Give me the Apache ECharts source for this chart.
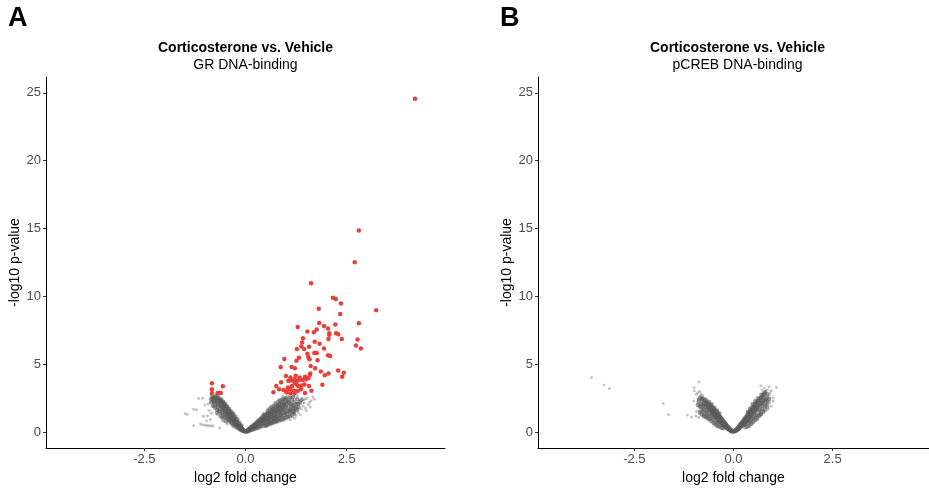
<!DOCTYPE html>
<html>
<head>
<meta charset="utf-8">
<script src="https://cdn.jsdelivr.net/npm/echarts@6/dist/echarts.min.js"></script>
<style>html,body{margin:0;padding:0;background:#fff}#c{width:929px;height:490px}</style>
</head>
<body>
<div id="c"></div>
<script>
// ---- tick labels ----
const xTicks = [-2.5, 0, 2.5];
const yTicks = [0, 5, 10, 15, 20, 25];

// ---- panel titles ----
const panelLetters = ['A', 'B'];
const mainTitle = 'Corticosterone vs. Vehicle';
const subTitles = ['GR DNA-binding', 'pCREB DNA-binding'];
const xName = 'log2 fold change';
const yName = '-log10 p-value';

// ---- Panel A: GR, significant (red) ----
const grSig = [[2.70,12.51],[1.62,10.98],[2.16,9.91],[2.23,9.82],[2.36,9.48],[3.23,8.99],[1.81,9.09],[2.34,8.70],[2.80,8.02],[2.22,7.94],[1.29,7.75],[1.82,8.04],[1.94,7.82],[2.04,7.63],[1.76,7.56],[1.53,7.41],[1.69,7.36],[2.07,7.29],[2.07,7.17],[2.24,7.29],[2.29,7.21],[1.42,6.92],[2.05,6.87],[2.38,6.87],[2.77,6.83],[1.40,6.61],[1.71,6.66],[1.83,6.51],[2.73,6.39],[2.85,6.17],[1.38,6.32],[1.57,6.29],[1.27,6.12],[1.45,6.12],[1.94,6.17],[1.53,5.78],[1.70,5.83],[1.76,5.83],[2.04,5.66],[2.09,5.61],[1.55,5.54],[1.32,5.49],[0.96,5.39],[1.58,5.37],[1.78,5.30],[1.26,5.27],[0.87,4.81],[1.14,4.81],[1.22,4.71],[1.61,4.88],[1.72,4.71],[2.29,4.54],[2.43,4.37],[1.86,4.47],[2.05,4.32],[1.96,4.20],[2.39,4.08],[1.60,4.32],[1.59,4.22],[1.00,4.13],[1.24,4.15],[1.11,4.03],[1.47,4.08],[1.34,4.03],[1.21,3.89],[1.33,3.84],[1.06,3.79],[1.12,3.81],[1.25,3.79],[1.42,3.84],[1.50,3.89],[1.56,3.99],[0.88,3.67],[1.21,3.64],[1.26,3.55],[1.46,3.52],[1.57,3.40],[1.90,3.50],[1.39,3.43],[1.30,3.40],[1.15,3.40],[1.05,3.30],[0.76,3.40],[0.83,3.16],[0.94,3.11],[1.03,3.11],[1.11,3.16],[1.20,3.06],[1.29,3.04],[1.11,2.87],[1.21,2.87],[0.69,2.94],[1.47,2.89],[1.63,3.06],[1.37,3.16],[1.01,2.94],[4.19,24.56],[2.80,14.85],[-0.83,3.60],[-0.83,3.16],[-0.56,3.38],[-0.83,2.89],[-0.69,2.89],[-0.64,2.89],[-0.61,2.89]];

// ---- Panel A: GR, not significant, dense core (grey) ----
const grCore = [[0.02,0.04],[0.03,0.09],[0.05,0.06],[0.05,0.14],[0.07,0.11],[0.08,0.21],[0.09,0.15],[0.1,0.27],[0.11,0.12],[0.12,0.2],[0.13,0.33],[0.14,0.24],[0.15,0.4],[0.16,0.17],[0.17,0.3],[0.18,0.47],[0.19,0.36],[0.2,0.22],[0.21,0.55],[0.22,0.41],[0.23,0.3],[0.24,0.62],[0.25,0.48],[0.26,0.27],[0.27,0.7],[0.28,0.55],[0.29,0.38],[0.3,0.8],[0.31,0.62],[0.32,0.33],[0.33,0.87],[0.34,0.5],[0.35,0.71],[0.36,0.95],[0.37,0.42],[0.38,0.8],[0.39,1.03],[0.4,0.58],[0.41,0.9],[0.42,1.12],[0.43,0.46],[0.44,0.73],[0.45,1.0],[0.46,1.2],[0.47,0.6],[0.48,0.86],[0.49,1.28],[0.5,1.08],[0.51,0.52],[0.52,0.75],[0.53,1.36],[0.54,0.96],[0.55,1.18],[0.56,0.63],[0.57,1.44],[0.58,0.85],[0.59,1.26],[0.6,1.05],[0.61,1.52],[0.62,0.7],[0.63,1.35],[0.64,0.95],[0.65,1.6],[0.66,1.15],[0.67,0.78],[0.68,1.45],[0.69,1.68],[0.7,1.02],[0.71,1.28],[0.72,1.76],[0.73,0.85],[0.74,1.55],[0.75,1.12],[0.76,1.84],[0.77,1.38],[0.78,0.95],[0.79,1.65],[0.8,1.92],[0.81,1.22],[0.82,1.48],[0.83,2.0],[0.84,1.05],[0.85,1.75],[0.86,1.32],[0.87,2.1],[0.88,1.58],[0.89,1.15],[0.9,1.85],[0.91,2.2],[0.92,1.42],[0.94,1.68],[0.95,2.02],[0.96,1.25],[0.97,2.3],[0.98,1.52],[1.0,1.8],[1.01,2.12],[1.02,1.35],[1.04,2.4],[1.05,1.62],[1.07,1.92],[1.08,2.25],[1.1,1.45],[1.12,2.05],[1.13,1.72],[1.15,2.38],[1.17,1.55],[1.19,1.95],[1.21,2.2],[1.23,1.68],[1.26,2.08],[1.28,2.45],[1.31,1.85],[1.34,2.25],
[0.12,0.26],[0.18,0.38],[0.24,0.52],[0.3,0.68],[0.36,0.78],[0.42,0.95],[0.48,1.1],[0.54,1.22],[0.6,1.35],[0.66,1.5],[0.72,1.62],[0.78,1.75],[0.84,1.88],[0.9,1.98],[0.96,2.1],[0.33,0.6],[0.39,0.65],[0.45,0.82],[0.51,0.92],[0.57,1.02],[0.63,1.15],[0.69,1.25],[0.75,1.4],[0.81,1.55],[0.87,1.65],[0.93,1.78],[0.99,1.9],
[0.5,0.45],[0.6,0.6],[0.7,0.72],[0.8,0.85],[0.9,0.95],[1.0,1.05],[1.1,1.2],[1.2,1.35],[0.55,0.55],[0.65,0.66],[0.75,0.78],[0.85,0.9],[0.95,1.0],[1.05,1.12],[1.15,1.28],[0.4,0.9],[0.5,1.25],[0.6,1.7],[0.7,1.95],[0.8,2.2],[0.9,2.4],[1.0,2.5],[1.1,2.55],[0.45,1.3],[0.55,1.55],[0.65,1.82],[0.75,2.05],[0.85,2.3],[0.95,2.45],[1.05,2.2],[1.15,2.0],[1.25,1.8],[1.1,1.65],[1.2,1.5],[1.3,2.1],[1.18,2.6],[1.38,2.35],[0.98,1.4],[0.88,1.28],[0.78,1.12],[0.68,0.98],[0.58,0.82],[1.08,1.55],[1.18,1.8],[1.28,1.65],
[-0.02,0.05],[-0.03,0.11],[-0.05,0.08],[-0.06,0.18],[-0.07,0.12],[-0.08,0.26],[-0.09,0.17],[-0.1,0.33],[-0.11,0.22],[-0.12,0.4],[-0.13,0.28],[-0.14,0.48],[-0.15,0.33],[-0.16,0.55],[-0.17,0.4],[-0.18,0.63],[-0.19,0.45],[-0.2,0.7],[-0.21,0.52],[-0.22,0.8],[-0.23,0.58],[-0.24,0.88],[-0.25,0.64],[-0.26,0.97],[-0.27,0.72],[-0.28,1.05],[-0.29,0.78],[-0.3,1.13],[-0.31,0.85],[-0.32,1.22],[-0.33,0.9],[-0.34,1.3],[-0.35,1.0],[-0.36,1.38],[-0.37,1.05],[-0.38,1.46],[-0.39,1.12],[-0.4,1.55],[-0.41,1.2],[-0.42,1.62],[-0.43,1.28],[-0.44,1.7],[-0.45,1.35],[-0.46,1.78],[-0.47,1.42],[-0.48,1.86],[-0.49,1.5],[-0.5,1.93],[-0.51,1.58],[-0.52,2.0],[-0.53,1.65],[-0.54,2.08],[-0.55,1.72],[-0.56,2.15],[-0.57,1.8],[-0.58,2.22],[-0.59,1.88],[-0.6,2.28],[-0.62,1.95],[-0.63,2.35],[-0.65,2.02],[-0.66,2.4],[-0.68,2.1],[-0.7,2.46],[-0.72,2.18],[-0.74,2.5],[-0.76,2.26],[-0.78,2.56],[-0.8,2.34],[-0.82,2.6],
[-0.1,0.26],[-0.15,0.42],[-0.2,0.6],[-0.25,0.78],[-0.3,0.96],[-0.35,1.15],[-0.4,1.35],[-0.45,1.52],[-0.5,1.72],[-0.55,1.9],[-0.6,2.06],[-0.65,2.22],[-0.7,2.3],[-0.27,0.55],[-0.33,0.72],[-0.39,0.9],[-0.45,1.1],[-0.51,1.3],[-0.57,1.5],[-0.63,1.7],[-0.69,1.85],[-0.75,2.0],
[-0.3,0.5],[-0.3,1.35],[-0.35,0.65],[-0.35,1.5],[-0.4,0.8],[-0.4,1.7],[-0.45,0.95],[-0.45,1.9],[-0.5,1.1],[-0.5,2.1],[-0.55,1.25],[-0.55,2.25],[-0.6,1.4],[-0.6,2.4],[-0.65,1.55],[-0.65,2.5],[-0.7,1.65],[-0.7,2.6],[-0.75,1.8],[-0.75,2.62],[-0.8,1.95],[-0.8,2.5],[-0.85,2.2],[-0.25,0.4],[-0.25,1.15],[-0.2,0.3],[-0.2,0.95],[-0.15,0.22],[-0.15,0.7],[-0.1,0.15],[-0.1,0.5],[-0.62,1.2],[-0.7,1.45],[-0.78,2.2],[-0.84,2.45],[-0.56,1.0],[-0.48,0.8]];

// ---- Panel A: GR, not significant, scattered (grey) ----
const grSparse = [[1.36,2.1],[1.4,2.52],[1.44,2.38],[1.48,2.46],[1.53,2.5],[1.58,2.2],[1.62,2.32],[1.7,2.42],[1.38,1.72],[1.25,1.22],[1.1,0.92],[1.16,1.1],[0.95,0.86],[1.3,1.45],[1.42,1.92],[1.55,2.02],[1.03,2.72],[0.92,2.65],[0.82,2.42],[0.72,2.2],[1.66,2.6],[1.2,2.68],[1.05,1.15],[1.22,1.02],[1.35,1.3],[1.48,1.78],[0.88,0.8],[0.78,0.72],[1.12,2.6],[1.28,2.7],[0.62,1.92],[0.55,1.7],[1.45,2.15],[1.5,1.6],[1.6,1.85],[0.98,2.55],
[-1.49,1.38],[-1.44,1.3],[-1.28,1.68],[-1.21,1.66],[-1.16,2.48],[-1.06,2.5],[-1.04,1.17],[-0.94,1.2],[-1.11,0.6],[-1.06,0.55],[-1.0,0.52],[-0.95,0.5],[-0.9,0.48],[-0.85,0.47],[-0.8,0.45],[-1.28,0.5],[-0.64,0.3],[-0.87,0.93],[-0.8,2.26],[-0.8,1.9],[-0.9,1.6],[-0.92,2.1],[-0.86,2.75],[-0.74,2.78],[-0.68,2.7],[-0.55,0.8],[-0.45,0.6],[-0.7,1.3],[-0.96,0.85],[-0.88,2.45],[-0.6,1.1],[-0.84,1.4],[-1.0,2.0]];

// ---- Panel B: pCREB, dense core (grey) ----
const crebCore = [[-0.02,0.04],[-0.03,0.1],[-0.05,0.07],[-0.06,0.15],[-0.07,0.1],[-0.08,0.22],[-0.1,0.16],[-0.11,0.3],[-0.12,0.2],[-0.13,0.36],[-0.14,0.24],[-0.15,0.42],[-0.16,0.3],[-0.17,0.5],[-0.18,0.34],[-0.19,0.58],[-0.2,0.4],[-0.21,0.65],[-0.22,0.45],[-0.23,0.72],[-0.24,0.52],[-0.25,0.8],[-0.26,0.56],[-0.27,0.88],[-0.28,0.62],[-0.29,0.95],[-0.3,0.68],[-0.31,1.02],[-0.32,0.74],[-0.33,1.1],[-0.34,0.8],[-0.35,1.18],[-0.36,0.85],[-0.37,1.25],[-0.38,0.92],[-0.39,1.32],[-0.4,0.98],[-0.41,1.4],[-0.42,1.05],[-0.43,1.46],[-0.44,1.12],[-0.45,1.52],[-0.46,1.18],[-0.47,1.6],[-0.48,1.25],[-0.49,1.66],[-0.5,1.3],[-0.51,1.72],[-0.52,1.37],[-0.53,1.8],[-0.54,1.42],[-0.55,1.86],[-0.56,1.5],[-0.57,1.92],[-0.58,1.55],[-0.59,1.98],[-0.6,1.62],[-0.62,2.05],[-0.63,1.7],[-0.65,2.12],[-0.66,1.76],[-0.68,2.2],[-0.7,1.85],[-0.72,2.28],[-0.74,1.95],[-0.76,2.35],[-0.78,2.02],[-0.8,2.45],[-0.82,2.1],[-0.84,2.55],
[-0.2,0.52],[-0.25,0.66],[-0.3,0.85],[-0.35,1.0],[-0.4,1.18],[-0.45,1.32],[-0.5,1.48],[-0.55,1.65],[-0.6,1.8],[-0.65,1.95],[-0.7,2.05],[-0.75,2.15],[-0.3,0.55],[-0.38,0.7],[-0.46,0.9],[-0.54,1.1],[-0.62,1.3],[-0.7,1.5],[-0.78,1.7],[-0.85,1.9],[-0.74,1.3],[-0.8,1.5],[-0.88,2.25],[-0.66,1.15],
[-0.4,0.45],[-0.45,0.55],[-0.5,0.7],[-0.55,0.8],[-0.6,0.95],[-0.65,1.0],[-0.7,1.15],[-0.75,1.2],[-0.8,1.3],[-0.85,1.5],[-0.35,0.4],[-0.3,0.32],[-0.25,0.28],[-0.42,0.72],[-0.5,1.0],[-0.58,1.2],[-0.66,1.45],[-0.74,1.65],[-0.82,1.85],[-0.9,2.0],[-0.86,2.4],[-0.78,2.5],[-0.7,2.4],[-0.62,2.25],[-0.55,2.05],[-0.48,1.8],[-0.42,1.6],[-0.36,1.4],
[0.02,0.05],[0.03,0.11],[0.05,0.08],[0.06,0.18],[0.07,0.12],[0.08,0.25],[0.1,0.17],[0.11,0.33],[0.12,0.22],[0.13,0.4],[0.14,0.28],[0.15,0.47],[0.16,0.33],[0.17,0.55],[0.18,0.38],[0.19,0.62],[0.2,0.44],[0.21,0.7],[0.22,0.5],[0.23,0.78],[0.24,0.56],[0.25,0.86],[0.26,0.62],[0.27,0.94],[0.28,0.68],[0.29,1.02],[0.3,0.74],[0.31,1.1],[0.32,0.8],[0.33,1.18],[0.34,0.86],[0.35,1.26],[0.36,0.93],[0.37,1.34],[0.38,1.0],[0.39,1.42],[0.4,1.07],[0.41,1.5],[0.42,1.14],[0.43,1.58],[0.44,1.2],[0.45,1.66],[0.46,1.28],[0.47,1.74],[0.48,1.35],[0.49,1.82],[0.5,1.42],[0.51,1.9],[0.52,1.5],[0.53,1.98],[0.54,1.57],[0.55,2.06],[0.56,1.64],[0.57,2.14],[0.58,1.72],[0.59,2.22],[0.6,1.8],[0.62,2.3],[0.63,1.88],[0.65,2.4],[0.66,1.96],[0.68,2.5],[0.69,2.05],[0.71,2.6],[0.72,2.15],[0.74,2.72],[0.75,2.25],[0.77,2.85],[0.78,2.35],[0.8,2.95],
[0.2,0.6],[0.25,0.74],[0.3,0.9],[0.35,1.08],[0.4,1.26],[0.45,1.44],[0.5,1.62],[0.55,1.8],[0.6,2.0],[0.65,2.15],[0.7,2.32],[0.75,2.5],[0.3,0.58],[0.37,0.72],[0.44,0.9],[0.51,1.1],[0.58,1.3],[0.65,1.5],[0.72,1.7],[0.8,1.95],[0.85,2.5],[0.82,2.2],[0.68,1.3],
[0.4,0.5],[0.45,0.62],[0.5,0.75],[0.55,0.9],[0.6,1.05],[0.65,1.2],[0.7,1.35],[0.75,1.5],[0.8,1.65],[0.85,1.9],[0.35,0.42],[0.3,0.36],[0.42,0.75],[0.5,1.0],[0.58,1.2],[0.66,1.65],[0.74,1.95],[0.82,2.45],[0.88,2.2],[0.78,2.7],[0.7,2.75],[0.62,2.5],[0.55,2.3],[0.48,2.05],[0.42,1.75],[0.36,1.5],[0.85,2.8],[0.9,2.45]];

// ---- Panel B: pCREB, scattered (grey) ----
const crebSparse = [[-3.58,4.03],[-3.27,3.47],[-3.13,3.21],[-1.77,2.11],[-1.64,1.31],[-1.16,1.26],[-1.06,1.12],[-0.87,3.72],[-0.99,3.3],[-0.99,3.05],[-0.94,2.8],[-1.0,2.3],[-0.93,1.55],[-0.9,2.9],[-0.85,3.0],[-0.82,2.8],[-0.9,2.45],[-0.95,1.2],[-0.88,1.1],[-0.78,2.7],[-0.6,0.9],[-0.5,0.6],[-0.72,1.05],[-0.86,1.35],
[0.69,3.42],[0.78,3.25],[0.85,3.12],[0.9,3.35],[0.95,3.05],[1.0,2.55],[1.08,3.3],[0.9,2.72],[0.82,2.05],[0.95,1.92],[1.0,2.3],[0.76,1.5],[0.88,1.7],[0.72,3.1],[0.8,3.0],[0.6,0.9],[0.92,2.9]];

const FONT = '"Liberation Sans", Arial, sans-serif';
const grids = [
  {left: 46, top: 77, width: 399, height: 375},
  {left: 538, top: 77, width: 399, height: 375}
];

function xAxis(i) {
  return {
    type: 'value', gridIndex: i, min: -4.93, max: 4.93,
    name: xName, nameLocation: 'middle', nameGap: 23,
    nameTextStyle: {color: '#000', fontSize: 14, fontFamily: FONT},
    splitLine: {show: false},
    axisLine: {show: true, onZero: false, lineStyle: {color: '#000', width: 1}},
    axisTick: {show: true, length: 3, lineStyle: {color: '#333'}, customValues: xTicks},
    axisLabel: {color: '#4d4d4d', fontSize: 13, fontFamily: FONT, margin: 5,
      customValues: xTicks, formatter: v => v.toFixed(1)}
  };
}
function yAxis(i) {
  return {
    type: 'value', gridIndex: i, min: -1.166, max: 26.166,
    name: yName, nameLocation: 'middle', nameGap: 24, nameRotate: 90,
    nameTextStyle: {color: '#000', fontSize: 14, fontFamily: FONT},
    splitLine: {show: false},
    axisLine: {show: true, onZero: false, lineStyle: {color: '#000', width: 1}},
    axisTick: {show: true, length: 3, lineStyle: {color: '#333'}, customValues: yTicks},
    axisLabel: {color: '#4d4d4d', fontSize: 13, fontFamily: FONT, margin: 5,
      customValues: yTicks, formatter: v => String(v)}
  };
}

function scat(i, data, size, color, opacity) {
  return {
    type: 'scatter', xAxisIndex: i, yAxisIndex: i, data: data,
    symbolSize: size, silent: true, animation: false,
    itemStyle: {color: color, opacity: opacity}
  };
}

const centers = [245.5, 737.5];
const graphics = [];
panelLetters.forEach((L, i) => {
  graphics.push({type: 'text', x: i === 0 ? 8 : 500, y: 5,
    style: {text: L, font: 'bold 27px ' + FONT, fill: '#000', textAlign: 'left', textVerticalAlign: 'top'}});
  graphics.push({type: 'text', x: centers[i], y: 48,
    style: {text: mainTitle, font: 'bold 14px ' + FONT, fill: '#000', textAlign: 'center', textVerticalAlign: 'middle'}});
  graphics.push({type: 'text', x: centers[i], y: 65,
    style: {text: subTitles[i], font: '14px ' + FONT, fill: '#000', textAlign: 'center', textVerticalAlign: 'middle'}});
});

const chart = echarts.init(document.getElementById('c'), null, {renderer: 'canvas'});
chart.setOption({
  animation: false,
  backgroundColor: '#fff',
  grid: grids,
  xAxis: [xAxis(0), xAxis(1)],
  yAxis: [yAxis(0), yAxis(1)],
  graphic: graphics,
  series: [
    scat(0, grSparse, 3, '#5a5a5a', 0.35),
    scat(0, grCore, 4.5, '#5a5a5a', 0.6),
    scat(0, grSig, 4.5, '#e8403a', 1),
    scat(1, crebSparse, 3, '#5a5a5a', 0.35),
    scat(1, crebCore, 4.5, '#5a5a5a', 0.6)
  ]
});
</script>
</body>
</html>
